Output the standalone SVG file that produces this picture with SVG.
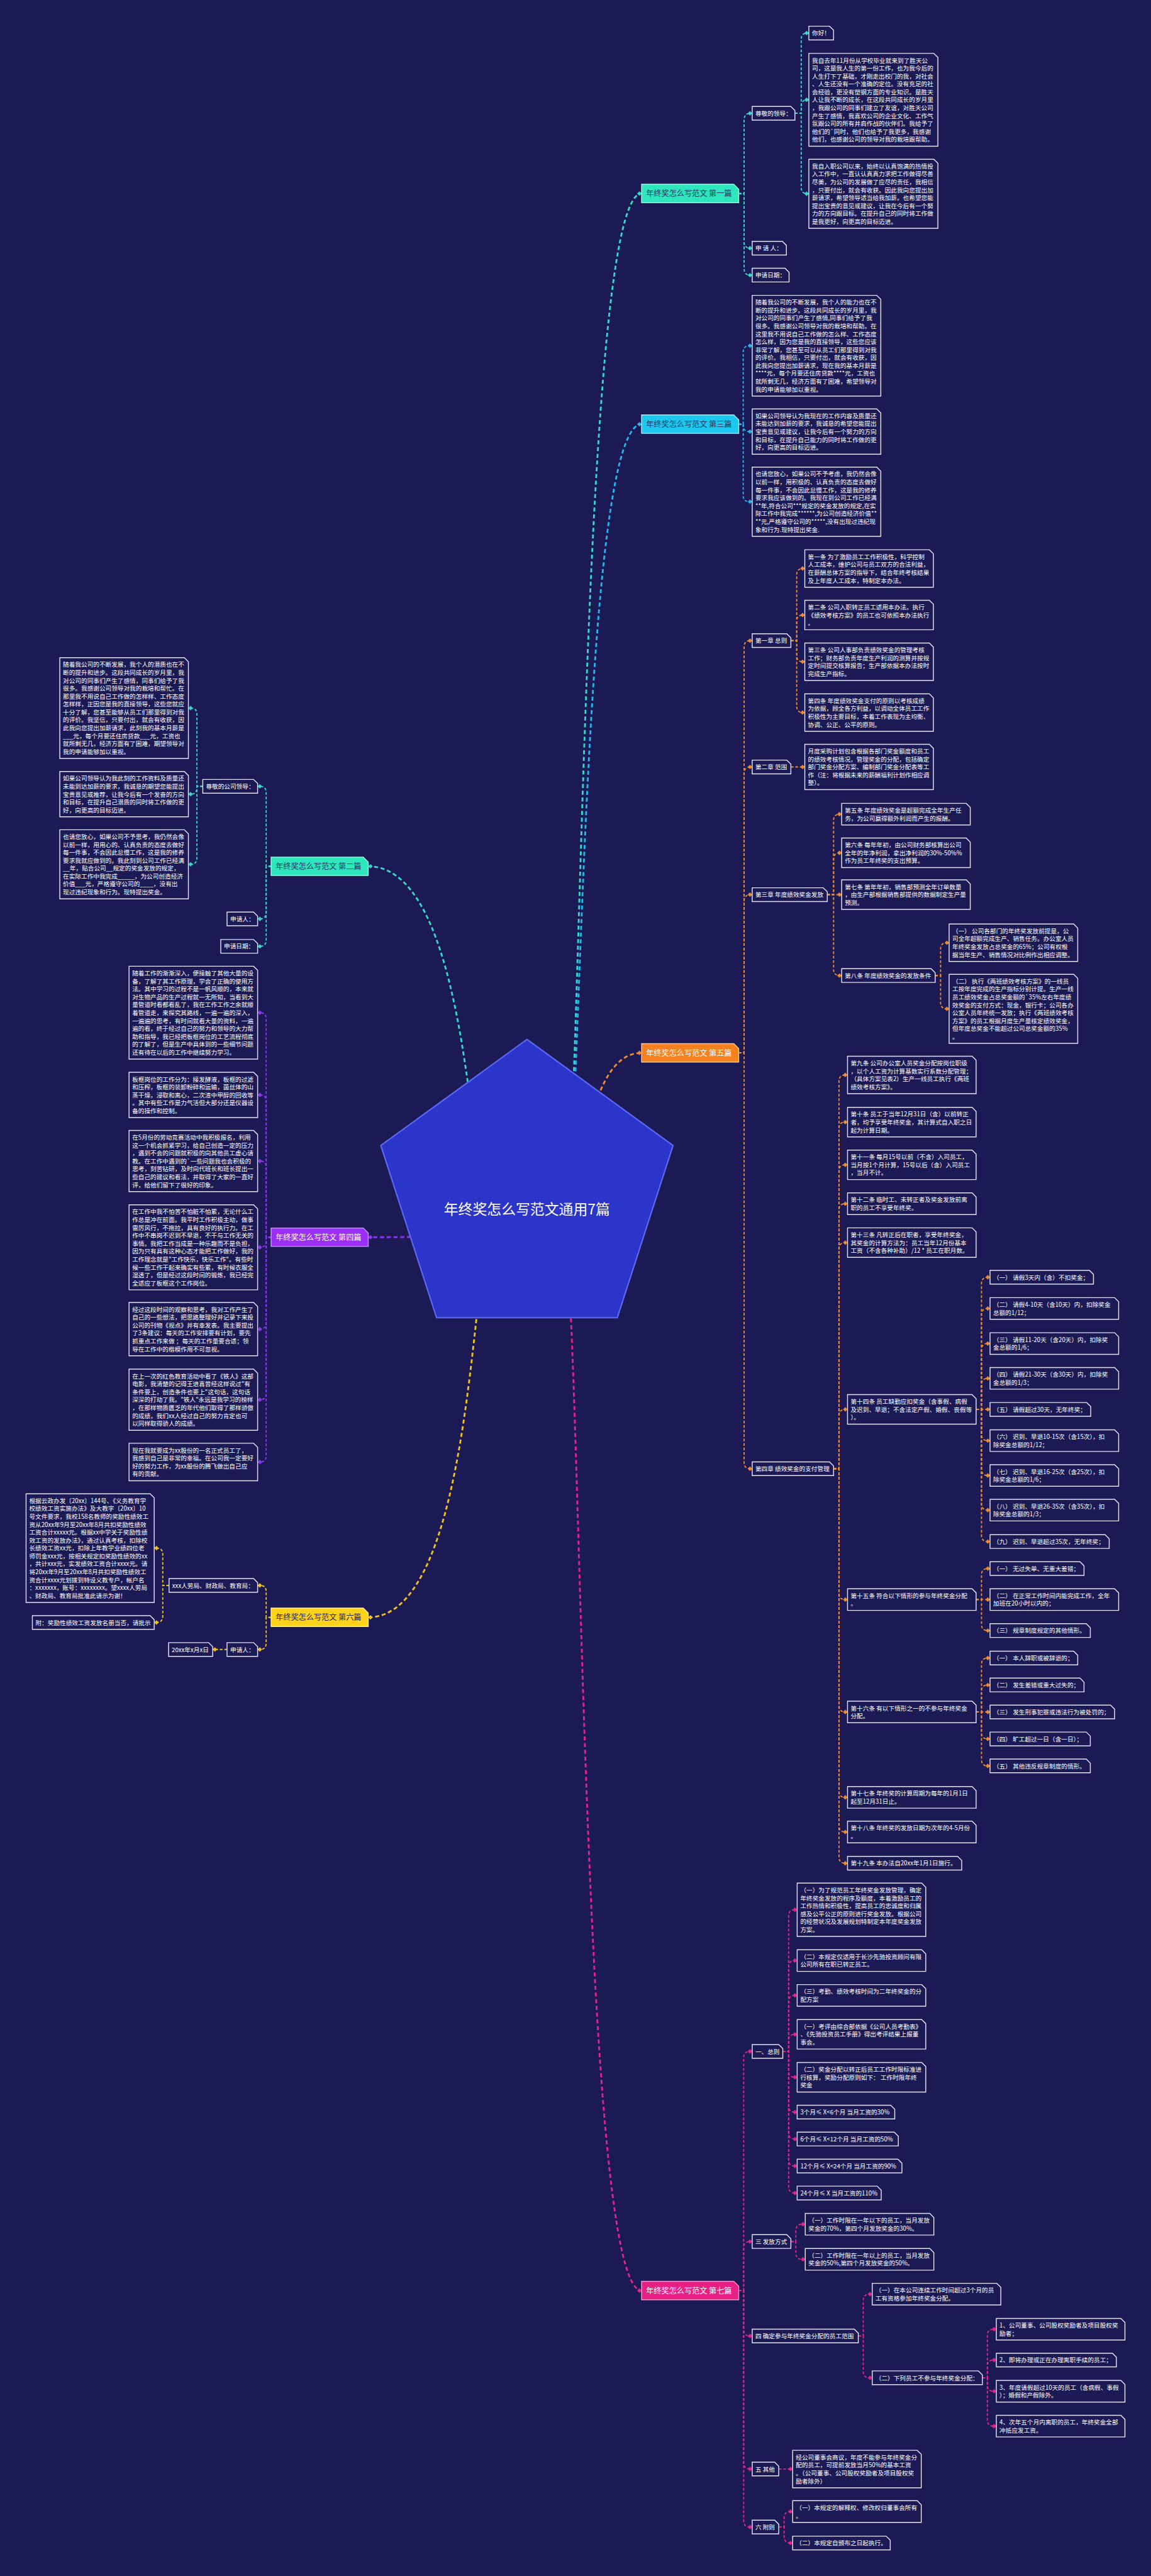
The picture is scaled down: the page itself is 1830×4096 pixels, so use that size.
<svg xmlns="http://www.w3.org/2000/svg" width="1830" height="4096" viewBox="0 0 1830 4096">
<defs>
<style>
.t{font-family:"Noto Sans CJK SC","Noto Sans CJK JP",sans-serif;font-size:13.5px;fill:#ffffff}
.bx{fill:#1b1a54;stroke:#e4e4f4;stroke-width:2}
.h{font-family:"Noto Sans CJK SC","Noto Sans CJK JP",sans-serif;font-size:17px}
.c{fill:none;stroke-width:2.6;stroke-dasharray:6 4}
.r{stroke-width:4;stroke-dasharray:9 6}
</style>
<marker id="m1" viewBox="-6 -6 12 12" refX="5" refY="0" markerWidth="12" markerHeight="12" markerUnits="userSpaceOnUse" orient="auto"><path d="M-5,0L0,-5L5,0L0,5Z" fill="#35d9c6"/></marker>
<marker id="m3" viewBox="-6 -6 12 12" refX="5" refY="0" markerWidth="12" markerHeight="12" markerUnits="userSpaceOnUse" orient="auto"><path d="M-5,0L0,-5L5,0L0,5Z" fill="#27b5ef"/></marker>
<marker id="m4" viewBox="-6 -6 12 12" refX="5" refY="0" markerWidth="12" markerHeight="12" markerUnits="userSpaceOnUse" orient="auto"><path d="M-5,0L0,-5L5,0L0,5Z" fill="#9035f0"/></marker>
<marker id="m5" viewBox="-6 -6 12 12" refX="5" refY="0" markerWidth="12" markerHeight="12" markerUnits="userSpaceOnUse" orient="auto"><path d="M-5,0L0,-5L5,0L0,5Z" fill="#f08a2c"/></marker>
<marker id="m6" viewBox="-6 -6 12 12" refX="5" refY="0" markerWidth="12" markerHeight="12" markerUnits="userSpaceOnUse" orient="auto"><path d="M-5,0L0,-5L5,0L0,5Z" fill="#f2c21a"/></marker>
<marker id="m7" viewBox="-6 -6 12 12" refX="5" refY="0" markerWidth="12" markerHeight="12" markerUnits="userSpaceOnUse" orient="auto"><path d="M-5,0L0,-5L5,0L0,5Z" fill="#e4248a"/></marker>
</defs>
<rect width="1830" height="4096" fill="#1b1a54"/>
<g transform="scale(0.714844)">

<g id="connectors">
<g class="c" stroke="#35d9c6" marker-end="url(#m1)">
<path class="r" d="M1250,2740C1295,2740 1285,430.5 1427,430.5"/>
<path d="M1643,430.5H1655V266Q1655,252 1669,252H1673"/>
<path d="M1643,430.5H1655V538Q1655,552 1669,552H1673"/>
<path d="M1643,430.5H1655V598Q1655,612 1669,612H1673"/>
<path d="M1768,252H1782V87.5Q1782,73.5 1796,73.5H1799"/>
<path d="M1768,252H1782V236Q1782,222 1796,222H1799"/>
<path d="M1768,252H1782V417Q1782,431 1796,431H1799"/>
<path class="r" d="M1094,2745C1049,2745 1059,1927 819,1927"/>
<path d="M603,1927H592V1763Q592,1749 578,1749H573"/>
<path d="M603,1927H592V2030Q592,2044 578,2044H573"/>
<path d="M603,1927H592V2091Q592,2105 578,2105H573"/>
<path d="M451,1749H438V1589Q438,1575 424,1575H419"/>
<path d="M451,1749H438V1752.5Q438,1766.5 424,1766.5H419"/>
<path d="M451,1749H438V1908.5Q438,1922.5 424,1922.5H419"/>
</g>
<g class="c" stroke="#27b5ef" marker-end="url(#m3)">
<path class="r" d="M1250,2740C1295,2740 1285,943.5 1427,943.5"/>
<path d="M1643,943.5H1653V783Q1653,769 1667,769H1673"/>
<path d="M1643,943.5H1653V946Q1653,960 1667,960H1673"/>
<path d="M1643,943.5H1653V1102Q1653,1116 1667,1116H1673"/>
</g>
<g class="c" stroke="#f08a2c" marker-end="url(#m5)">
<path class="r" d="M1250,2740C1295,2740 1285,2342 1427,2342"/>
<path d="M1643,2342H1655V1439Q1655,1425 1669,1425H1673"/>
<path d="M1643,2342H1655V1720Q1655,1706 1669,1706H1673"/>
<path d="M1643,2342H1655V2004Q1655,1990 1669,1990H1673"/>
<path d="M1643,2342H1655V3253Q1655,3267 1669,3267H1673"/>
<path d="M1759,1425H1772V1278.5Q1772,1264.5 1786,1264.5H1790"/>
<path d="M1759,1425H1772V1382Q1772,1368 1786,1368H1790"/>
<path d="M1759,1425H1772V1458Q1772,1472 1786,1472H1790"/>
<path d="M1759,1425H1772V1571Q1772,1585 1786,1585H1790"/>
<path d="M1759,1706H1790"/>
<path d="M1840,1990H1854V1825Q1854,1811 1868,1811H1872"/>
<path d="M1840,1990H1854V1911Q1854,1897 1868,1897H1872"/>
<path d="M1840,1990H1872"/>
<path d="M1840,1990H1854V2156Q1854,2170 1868,2170H1872"/>
<path d="M2080,2170H2092V2111Q2092,2097 2106,2097H2111"/>
<path d="M2080,2170H2092V2230Q2092,2244 2106,2244H2111"/>
<path d="M1854,3267H1866V2405Q1866,2391 1880,2391H1885"/>
<path d="M1854,3267H1866V2510Q1866,2496 1880,2496H1885"/>
<path d="M1854,3267H1866V2605Q1866,2591 1880,2591H1885"/>
<path d="M1854,3267H1866V2691.5Q1866,2677.5 1880,2677.5H1885"/>
<path d="M1854,3267H1866V2778Q1866,2764 1880,2764H1885"/>
<path d="M1854,3267H1866V3149Q1866,3135 1880,3135H1885"/>
<path d="M1854,3267H1866V3544Q1866,3558 1880,3558H1885"/>
<path d="M1854,3267H1866V3794Q1866,3808 1880,3808H1885"/>
<path d="M1854,3267H1866V3984Q1866,3998 1880,3998H1885"/>
<path d="M1854,3267H1866V4061Q1866,4075 1880,4075H1885"/>
<path d="M1854,3267H1866V4130.5Q1866,4144.5 1880,4144.5H1885"/>
<path d="M2171,3135H2183V2855Q2183,2841 2197,2841H2202"/>
<path d="M2171,3135H2183V2924.5Q2183,2910.5 2197,2910.5H2202"/>
<path d="M2171,3135H2183V3002.5Q2183,2988.5 2197,2988.5H2202"/>
<path d="M2171,3135H2183V3080Q2183,3066 2197,3066H2202"/>
<path d="M2171,3135H2202"/>
<path d="M2171,3135H2183V3190.5Q2183,3204.5 2197,3204.5H2202"/>
<path d="M2171,3135H2183V3268Q2183,3282 2197,3282H2202"/>
<path d="M2171,3135H2183V3345Q2183,3359 2197,3359H2202"/>
<path d="M2171,3135H2183V3415Q2183,3429 2197,3429H2202"/>
<path d="M2171,3558H2183V3503Q2183,3489 2197,3489H2202"/>
<path d="M2171,3558H2202"/>
<path d="M2171,3558H2183V3613Q2183,3627 2197,3627H2202"/>
<path d="M2171,3808H2183V3702Q2183,3688 2197,3688H2202"/>
<path d="M2171,3808H2183V3762Q2183,3748 2197,3748H2202"/>
<path d="M2171,3808H2202"/>
<path d="M2171,3808H2183V3854Q2183,3868 2197,3868H2202"/>
<path d="M2171,3808H2183V3914Q2183,3928 2197,3928H2202"/>
</g>
<g class="c" stroke="#e4248a" marker-end="url(#m7)">
<path class="r" d="M1250,2740C1295,2740 1285,5095 1427,5095"/>
<path d="M1643,5095H1654V4577Q1654,4563 1668,4563H1673"/>
<path d="M1643,5095H1654V5000Q1654,4986 1668,4986H1673"/>
<path d="M1643,5095H1654V5182Q1654,5196 1668,5196H1673"/>
<path d="M1643,5095H1654V5478Q1654,5492 1668,5492H1673"/>
<path d="M1643,5095H1654V5607Q1654,5621 1668,5621H1673"/>
<path d="M1741,4563H1754V4262Q1754,4248 1768,4248H1773"/>
<path d="M1741,4563H1754V4375Q1754,4361 1768,4361H1773"/>
<path d="M1741,4563H1754V4452.5Q1754,4438.5 1768,4438.5H1773"/>
<path d="M1741,4563H1754V4539Q1754,4525 1768,4525H1773"/>
<path d="M1741,4563H1754V4606.5Q1754,4620.5 1768,4620.5H1773"/>
<path d="M1741,4563H1754V4684Q1754,4698 1768,4698H1773"/>
<path d="M1741,4563H1754V4744Q1754,4758 1768,4758H1773"/>
<path d="M1741,4563H1754V4804Q1754,4818 1768,4818H1773"/>
<path d="M1741,4563H1754V4864Q1754,4878 1768,4878H1773"/>
<path d="M1759,4986H1770V4961.5Q1770,4947.5 1784,4947.5H1791"/>
<path d="M1759,4986H1770V5011.5Q1770,5025.5 1784,5025.5H1791"/>
<path d="M1909,5196H1920V5117Q1920,5103 1934,5103H1940"/>
<path d="M1909,5196H1920V5275Q1920,5289 1934,5289H1940"/>
<path d="M2185,5289H2196V5195Q2196,5181 2210,5181H2216"/>
<path d="M2185,5289H2196V5263.5Q2196,5249.5 2210,5249.5H2216"/>
<path d="M2185,5289H2196V5305Q2196,5319 2210,5319H2216"/>
<path d="M2185,5289H2196V5382.5Q2196,5396.5 2210,5396.5H2216"/>
<path d="M1732,5492H1763"/>
<path d="M1732,5621H1744V5600.5Q1744,5586.5 1758,5586.5H1763"/>
<path d="M1732,5621H1744V5642.5Q1744,5656.5 1758,5656.5H1763"/>
</g>
<g class="c" stroke="#9035f0" marker-end="url(#m4)">
<path class="r" d="M1094,2745C1049,2745 1059,2752 819,2752"/>
<path d="M603,2752H592V2266.5Q592,2252.5 578,2252.5H573"/>
<path d="M603,2752H592V2449.5Q592,2435.5 578,2435.5H573"/>
<path d="M603,2752H592V2596.5Q592,2582.5 578,2582.5H573"/>
<path d="M603,2752H592V2760.5Q592,2774.5 578,2774.5H573"/>
<path d="M603,2752H592V2942.5Q592,2956.5 578,2956.5H573"/>
<path d="M603,2752H592V3099.5Q592,3113.5 578,3113.5H573"/>
<path d="M603,2752H592V3238Q592,3252 578,3252H573"/>
</g>
<g class="c" stroke="#f2c21a" marker-end="url(#m6)">
<path class="r" d="M1094,2745C1049,2745 1059,3597.5 819,3597.5"/>
<path d="M603,3597.5H592V3540.5Q592,3526.5 578,3526.5H573"/>
<path d="M603,3597.5H592V3655Q592,3669 578,3669H573"/>
<path d="M376,3526.5H362V3457.5Q362,3443.5 348,3443.5H343"/>
<path d="M376,3526.5H362V3595Q362,3609 348,3609H343"/>
<path d="M505,3669H473"/>
</g>
</g>

<g id="root">
<polygon points="1172,2312 1497,2548 1373,2931 971,2931 847,2548" fill="#2b35c9" stroke="#5d69f5" stroke-width="3"/>
<text x="1172" y="2702" text-anchor="middle" font-family="Noto Sans CJK SC, sans-serif" font-size="32" fill="#ffffff">年终奖怎么写范文通用7篇</text>
</g>

<!-- Branch 1 -->
<g id="b1" transform="translate(1427,410)"><path d="M0,0H205L216,11V41H0Z" fill="#2ee6bd" stroke="#a6f7e3" stroke-width="2"/><text class="h" x="10" y="27" fill="#1e3a66">年终奖怎么写范文 第一篇</text></g>
<g id="b1-1" transform="translate(1673,236.75)"><path class="bx" d="M0,0H86L95,9V30.5H0Z"/><text class="t" x="7" y="20.5">尊敬的领导：</text></g>
<g id="b1-1-1" transform="translate(1799,58.25)"><path class="bx" d="M0,0H46L55,9V30.5H0Z"/><text class="t" x="7" y="20.5">你好！</text></g>
<g id="b1-1-2" transform="translate(1799,118.75)"><path class="bx" d="M0,0H278L287,9V206.5H0Z"/><text class="t" y="20.5"><tspan x="7">我自去年11月份从学校毕业就来到了胜天公</tspan><tspan x="7" dy="17.6">司，这是我人生的第一份工作，也为我今后的</tspan><tspan x="7" dy="17.6">人生打下了基础，才刚走出校门的我，对社会</tspan><tspan x="7" dy="17.6">、人生还没有一个准确的定位。没有充足的社</tspan><tspan x="7" dy="17.6">会经验，更没有塑钢方面的专业知识。是胜天</tspan><tspan x="7" dy="17.6">人让我不断的成长，在这段共同成长的岁月里</tspan><tspan x="7" dy="17.6">，我跟公司的同事们建立了友谊，对胜天公司</tspan><tspan x="7" dy="17.6">产生了感情，我喜欢公司的企业文化、工作气</tspan><tspan x="7" dy="17.6">氛跟公司的所有并肩作战的伙伴们。我给予了</tspan><tspan x="7" dy="17.6">他们的`同时，他们也给予了我更多，我感谢</tspan><tspan x="7" dy="17.6">他们，也感谢公司的领导对我的栽培跟帮助。</tspan></text></g>
<g id="b1-1-3" transform="translate(1799,354.15)"><path class="bx" d="M0,0H278L287,9V153.7H0Z"/><text class="t" y="20.5"><tspan x="7">我自入职公司以来，始终以认真饱满的热情投</tspan><tspan x="7" dy="17.6">入工作中，一直认认真真力求把工作做得尽善</tspan><tspan x="7" dy="17.6">尽美，为公司的发展做了应尽的责任，我相信</tspan><tspan x="7" dy="17.6">，只要付出，就会有收获。因此我向您提出加</tspan><tspan x="7" dy="17.6">薪请求，希望领导适当给我加薪。也希望您能</tspan><tspan x="7" dy="17.6">提出宝贵的意见或建议，让我在今后有一个努</tspan><tspan x="7" dy="17.6">力的方向跟目标。在提升自己的同时将工作做</tspan><tspan x="7" dy="17.6">是我更好，向更高的目标迈进。</tspan></text></g>
<g id="b1-2" transform="translate(1673,536.75)"><path class="bx" d="M0,0H67L76,9V30.5H0Z"/><text class="t" x="7" y="20.5">申 请 人：</text></g>
<g id="b1-3" transform="translate(1673,596.75)"><path class="bx" d="M0,0H73L82,9V30.5H0Z"/><text class="t" x="7" y="20.5">申请日期：</text></g>

<!-- Branch 3 -->
<g id="b3" transform="translate(1427,923)"><path d="M0,0H205L216,11V41H0Z" fill="#1cc8f0" stroke="#a5ecff" stroke-width="2"/><text class="h" x="10" y="27" fill="#1e3a66">年终奖怎么写范文 第三篇</text></g>
<g id="b3-1" transform="translate(1673,656.95)"><path class="bx" d="M0,0H277L286,9V224.1H0Z"/><text class="t" y="20.5"><tspan x="7">随着我公司的不断发展，我个人的能力也在不</tspan><tspan x="7" dy="17.6">断的提升和进步。这段共同成长的岁月里，我</tspan><tspan x="7" dy="17.6">对公司的同事们产生了感情,同事们给予了我</tspan><tspan x="7" dy="17.6">很多。我感谢公司领导对我的栽培和帮助。在</tspan><tspan x="7" dy="17.6">这里我不用说自己工作做的怎么样、工作态度</tspan><tspan x="7" dy="17.6">怎么样，因为您是我的直接领导，这些您应该</tspan><tspan x="7" dy="17.6">非常了解，您甚至可以从员工们那里得到对我</tspan><tspan x="7" dy="17.6">的评价。我相信，只要付出，就会有收获，因</tspan><tspan x="7" dy="17.6">此我向您提出加薪请求，现在我的基本月薪是</tspan><tspan x="7" dy="17.6">****元，每个月要还住房贷款****元，工资也</tspan><tspan x="7" dy="17.6">就所剩无几，经济方面有了困难，希望领导对</tspan><tspan x="7" dy="17.6">我的申请能够加以重视。</tspan></text></g>
<g id="b3-2" transform="translate(1673,909.55)"><path class="bx" d="M0,0H277L286,9V100.9H0Z"/><text class="t" y="20.5"><tspan x="7">如果公司领导认为我现在的工作内容及质量还</tspan><tspan x="7" dy="17.6">未能达到加薪的要求，我诚恳的希望您能提出</tspan><tspan x="7" dy="17.6">宝贵意见或建议，让我今后有一个努力的方向</tspan><tspan x="7" dy="17.6">和目标，在提升自己能力的同时将工作做的更</tspan><tspan x="7" dy="17.6">好，向更高的目标迈进。</tspan></text></g>
<g id="b3-3" transform="translate(1673,1039.15)"><path class="bx" d="M0,0H277L286,9V153.7H0Z"/><text class="t" y="20.5"><tspan x="7">也请您放心，如果公司不予考虑，我仍然会像</tspan><tspan x="7" dy="17.6">以前一样，用积极的、认真负责的态度去做好</tspan><tspan x="7" dy="17.6">每一件事，不会因此怠慢工作，这是我的修养</tspan><tspan x="7" dy="17.6">要求我应该做到的。我现在到公司工作已经满</tspan><tspan x="7" dy="17.6">**年,符合公司***规定的奖金发放的规定,在实</tspan><tspan x="7" dy="17.6">际工作中我完成******,为公司创造经济价值**</tspan><tspan x="7" dy="17.6">**元,严格遵守公司的*****,没有出现过违纪现</tspan><tspan x="7" dy="17.6">象和行为.现特提出奖金.</tspan></text></g>

<!-- Branch 5 -->
<g id="b5" transform="translate(1427,2321.5)"><path d="M0,0H205L216,11V41H0Z" fill="#f5821f" stroke="#ffc58f" stroke-width="2"/><text class="h" x="10" y="27" fill="#ffffff">年终奖怎么写范文 第五篇</text></g>
<g id="b5-1" transform="translate(1673,1409.75)"><path class="bx" d="M0,0H77L86,9V30.5H0Z"/><text class="t" x="7" y="20.5">第一章 总则</text></g>
<g id="b5-1-1" transform="translate(1790,1222.85)"><path class="bx" d="M0,0H277L286,9V83.3H0Z"/><text class="t" y="20.5"><tspan x="7">第一条 为了激励员工工作积极性，科学控制</tspan><tspan x="7" dy="17.6">人工成本，维护公司与员工双方的合法利益，</tspan><tspan x="7" dy="17.6">在薪酬总体方案的指导下，结合年终考核结果</tspan><tspan x="7" dy="17.6">及上年度人工成本，特制定本办法。</tspan></text></g>
<g id="b5-1-2" transform="translate(1790,1335.15)"><path class="bx" d="M0,0H277L286,9V65.7H0Z"/><text class="t" y="20.5"><tspan x="7">第二条 公司入职转正员工适用本办法。执行</tspan><tspan x="7" dy="17.6">《绩效考核方案》的员工也可依照本办法执行</tspan><tspan x="7" dy="17.6">。</tspan></text></g>
<g id="b5-1-3" transform="translate(1790,1430.35)"><path class="bx" d="M0,0H277L286,9V83.3H0Z"/><text class="t" y="20.5"><tspan x="7">第三条 公司人事部负责绩效奖金的管理考核</tspan><tspan x="7" dy="17.6">工作；财务部负责年度生产利润的测算并按规</tspan><tspan x="7" dy="17.6">定时间提交核算报告；生产部依据本办法按时</tspan><tspan x="7" dy="17.6">完成生产指标。</tspan></text></g>
<g id="b5-1-4" transform="translate(1790,1543.35)"><path class="bx" d="M0,0H277L286,9V83.3H0Z"/><text class="t" y="20.5"><tspan x="7">第四条 年度绩效奖金支付的原则以考核成绩</tspan><tspan x="7" dy="17.6">为依据，顾全各方利益，以调动全体员工工作</tspan><tspan x="7" dy="17.6">积极性为主要目标，本着工作表现为主均衡、</tspan><tspan x="7" dy="17.6">协调、公正、公平的原则。</tspan></text></g>
<g id="b5-2" transform="translate(1673,1690.75)"><path class="bx" d="M0,0H77L86,9V30.5H0Z"/><text class="t" x="7" y="20.5">第二章 范围</text></g>
<g id="b5-2-1" transform="translate(1790,1655.55)"><path class="bx" d="M0,0H277L286,9V100.9H0Z"/><text class="t" y="20.5"><tspan x="7">月度采购计划包含根据各部门奖金额度和员工</tspan><tspan x="7" dy="17.6">的绩效考核情况，管理奖金的分配，包括确定</tspan><tspan x="7" dy="17.6">部门奖金分配方案、编制部门奖金分配表等工</tspan><tspan x="7" dy="17.6">作（注：将根据未来的薪酬福利计划作相应调</tspan><tspan x="7" dy="17.6">整）。</tspan></text></g>
<g id="b5-3" transform="translate(1673,1974.75)"><path class="bx" d="M0,0H158L167,9V30.5H0Z"/><text class="t" x="7" y="20.5">第三章 年度绩效奖金发放</text></g>
<g id="b5-3-1" transform="translate(1872,1786.95)"><path class="bx" d="M0,0H277L286,9V48.1H0Z"/><text class="t" y="20.5"><tspan x="7">第五条 年度绩效奖金是超额完成全年生产任</tspan><tspan x="7" dy="17.6">务，为公司赢得额外利润而产生的报酬。</tspan></text></g>
<g id="b5-3-2" transform="translate(1872,1864.15)"><path class="bx" d="M0,0H277L286,9V65.7H0Z"/><text class="t" y="20.5"><tspan x="7">第六条 每年年初，由公司财务部核算出公司</tspan><tspan x="7" dy="17.6">全年的年净利润，拿出净利润的30%-50%%</tspan><tspan x="7" dy="17.6">作为员工年终奖的支出预算。</tspan></text></g>
<g id="b5-3-3" transform="translate(1872,1957.15)"><path class="bx" d="M0,0H277L286,9V65.7H0Z"/><text class="t" y="20.5"><tspan x="7">第七条 第年年初，销售部预测全年订单数量</tspan><tspan x="7" dy="17.6">，由生产部根据销售部提供的数据制定生产量</tspan><tspan x="7" dy="17.6">预测。</tspan></text></g>
<g id="b5-3-4" transform="translate(1872,2154.75)"><path class="bx" d="M0,0H199L208,9V30.5H0Z"/><text class="t" x="7" y="20.5">第八条 年度绩效奖金的发放条件</text></g>
<g id="b5-3-4-1" transform="translate(2111,2055.35)"><path class="bx" d="M0,0H277L286,9V83.3H0Z"/><text class="t" y="20.5"><tspan x="7">（一） 公司各部门的年终奖发放前提是，公</tspan><tspan x="7" dy="17.6">司全年超额完成生产、销售任务。办公室人员</tspan><tspan x="7" dy="17.6">年终奖金发放占总奖金的65%；公司有权根</tspan><tspan x="7" dy="17.6">据当年生产、销售情况对比例作出相应调整。</tspan></text></g>
<g id="b5-3-4-2" transform="translate(2111,2167.15)"><path class="bx" d="M0,0H277L286,9V153.7H0Z"/><text class="t" y="20.5"><tspan x="7">（二） 执行《两班绩效考核方案》的一线员</tspan><tspan x="7" dy="17.6">工按年度完成的生产指标分别计提。生产一线</tspan><tspan x="7" dy="17.6">员工绩效奖金占总奖金额的`35%左右年度绩</tspan><tspan x="7" dy="17.6">效奖金的支付方式：现金，银行卡；公司各办</tspan><tspan x="7" dy="17.6">公室人员年终统一发放；执行《两班绩效考核</tspan><tspan x="7" dy="17.6">方案》的员工根据月度生产量核定绩效奖金，</tspan><tspan x="7" dy="17.6">但年度总奖金不能超过公司总奖金额的35%</tspan><tspan x="7" dy="17.6">。</tspan></text></g>
<g id="b5-4" transform="translate(1673,3251.75)"><path class="bx" d="M0,0H172L181,9V30.5H0Z"/><text class="t" x="7" y="20.5">第四章 绩效奖金的支付管理</text></g>
<g id="b5-4-1" transform="translate(1885,2349.35)"><path class="bx" d="M0,0H277L286,9V83.3H0Z"/><text class="t" y="20.5"><tspan x="7">第九条 公司办公室人员奖金分配按岗位职级</tspan><tspan x="7" dy="17.6">，以个人工资为计算基数实行系数分配管理；</tspan><tspan x="7" dy="17.6">（具体方案见表2）生产一线员工执行《两班</tspan><tspan x="7" dy="17.6">绩效考核方案》。</tspan></text></g>
<g id="b5-4-2" transform="translate(1885,2463.15)"><path class="bx" d="M0,0H277L286,9V65.7H0Z"/><text class="t" y="20.5"><tspan x="7">第十条 员工于当年12月31日（含）以前转正</tspan><tspan x="7" dy="17.6">者，均予享受年终奖金，其计算式自入职之日</tspan><tspan x="7" dy="17.6">起为计算日期。</tspan></text></g>
<g id="b5-4-3" transform="translate(1885,2558.15)"><path class="bx" d="M0,0H277L286,9V65.7H0Z"/><text class="t" y="20.5"><tspan x="7">第十一条 每月15号以前（不含）入司员工，</tspan><tspan x="7" dy="17.6">当月按1个月计算，15号以后（含）入司员工</tspan><tspan x="7" dy="17.6">，当月不计。</tspan></text></g>
<g id="b5-4-4" transform="translate(1885,2653.45)"><path class="bx" d="M0,0H277L286,9V48.1H0Z"/><text class="t" y="20.5"><tspan x="7">第十二条 临时工、未转正者及奖金发放前离</tspan><tspan x="7" dy="17.6">职的员工不享受年终奖。</tspan></text></g>
<g id="b5-4-5" transform="translate(1885,2731.15)"><path class="bx" d="M0,0H277L286,9V65.7H0Z"/><text class="t" y="20.5"><tspan x="7">第十三条 凡转正后在职者，享受年终奖金，</tspan><tspan x="7" dy="17.6">其奖金的计算方法为：员工当年12月份基本</tspan><tspan x="7" dy="17.6">工资（不含各种补助）/12 * 员工在职月数。</tspan></text></g>
<g id="b5-4-6" transform="translate(1885,3102.15)"><path class="bx" d="M0,0H277L286,9V65.7H0Z"/><text class="t" y="20.5"><tspan x="7">第十四条 员工缺勤应扣奖金（含事假、病假</tspan><tspan x="7" dy="17.6">及迟到、早退；不含法定产假、婚假、丧假等</tspan><tspan x="7" dy="17.6">）。</tspan></text></g>
<g id="b5-4-6-1" transform="translate(2202,2825.75)"><path class="bx" d="M0,0H221L230,9V30.5H0Z"/><text class="t" x="7" y="20.5">（一） 请假3天内（含）不扣奖金；</text></g>
<g id="b5-4-6-2" transform="translate(2202,2886.45)"><path class="bx" d="M0,0H277L286,9V48.1H0Z"/><text class="t" y="20.5"><tspan x="7">（二） 请假4-10天（含10天）内，扣除奖金</tspan><tspan x="7" dy="17.6">总额的1/12；</tspan></text></g>
<g id="b5-4-6-3" transform="translate(2202,2964.45)"><path class="bx" d="M0,0H277L286,9V48.1H0Z"/><text class="t" y="20.5"><tspan x="7">（三） 请假11-20天（含20天）内，扣除奖</tspan><tspan x="7" dy="17.6">金总额的1/6；</tspan></text></g>
<g id="b5-4-6-4" transform="translate(2202,3041.95)"><path class="bx" d="M0,0H277L286,9V48.1H0Z"/><text class="t" y="20.5"><tspan x="7">（四） 请假21-30天（含30天）内，扣除奖</tspan><tspan x="7" dy="17.6">金总额的1/3；</tspan></text></g>
<g id="b5-4-6-5" transform="translate(2202,3119.75)"><path class="bx" d="M0,0H215L224,9V30.5H0Z"/><text class="t" x="7" y="20.5">（五） 请假超过30天，无年终奖；</text></g>
<g id="b5-4-6-6" transform="translate(2202,3180.45)"><path class="bx" d="M0,0H277L286,9V48.1H0Z"/><text class="t" y="20.5"><tspan x="7">（六） 迟到、早退10-15次（含15次），扣</tspan><tspan x="7" dy="17.6">除奖金总额的1/12；</tspan></text></g>
<g id="b5-4-6-7" transform="translate(2202,3257.95)"><path class="bx" d="M0,0H277L286,9V48.1H0Z"/><text class="t" y="20.5"><tspan x="7">（七） 迟到、早退16-25次（含25次），扣</tspan><tspan x="7" dy="17.6">除奖金总额的1/6；</tspan></text></g>
<g id="b5-4-6-8" transform="translate(2202,3334.95)"><path class="bx" d="M0,0H277L286,9V48.1H0Z"/><text class="t" y="20.5"><tspan x="7">（八） 迟到、早退26-35次（含35次），扣</tspan><tspan x="7" dy="17.6">除奖金总额的1/3；</tspan></text></g>
<g id="b5-4-6-9" transform="translate(2202,3413.75)"><path class="bx" d="M0,0H256L265,9V30.5H0Z"/><text class="t" x="7" y="20.5">（九） 迟到、早退超过35次，无年终奖；</text></g>
<g id="b5-4-7" transform="translate(1885,3533.95)"><path class="bx" d="M0,0H277L286,9V48.1H0Z"/><text class="t" y="20.5"><tspan x="7">第十五条 符合以下情形的参与年终奖金分配</tspan><tspan x="7" dy="17.6">。</tspan></text></g>
<g id="b5-4-7-1" transform="translate(2202,3473.75)"><path class="bx" d="M0,0H200L209,9V30.5H0Z"/><text class="t" x="7" y="20.5">（一） 无过失单、无重大差错；</text></g>
<g id="b5-4-7-2" transform="translate(2202,3533.95)"><path class="bx" d="M0,0H277L286,9V48.1H0Z"/><text class="t" y="20.5"><tspan x="7">（二） 在正常工作时间内能完成工作，全年</tspan><tspan x="7" dy="17.6">加班在20小时以内的；</tspan></text></g>
<g id="b5-4-7-3" transform="translate(2202,3611.75)"><path class="bx" d="M0,0H214L223,9V30.5H0Z"/><text class="t" x="7" y="20.5">（三） 规章制度规定的其他情形。</text></g>
<g id="b5-4-8" transform="translate(1885,3783.95)"><path class="bx" d="M0,0H277L286,9V48.1H0Z"/><text class="t" y="20.5"><tspan x="7">第十六条 有以下情形之一的不参与年终奖金</tspan><tspan x="7" dy="17.6">分配。</tspan></text></g>
<g id="b5-4-8-1" transform="translate(2202,3672.75)"><path class="bx" d="M0,0H186L195,9V30.5H0Z"/><text class="t" x="7" y="20.5">（一） 本人辞职或被辞退的；</text></g>
<g id="b5-4-8-2" transform="translate(2202,3732.75)"><path class="bx" d="M0,0H200L209,9V30.5H0Z"/><text class="t" x="7" y="20.5">（二） 发生差错或重大过失的；</text></g>
<g id="b5-4-8-3" transform="translate(2202,3792.75)"><path class="bx" d="M0,0H268L277,9V30.5H0Z"/><text class="t" x="7" y="20.5">（三） 发生刑事犯罪或违法行为被处罚的；</text></g>
<g id="b5-4-8-4" transform="translate(2202,3852.75)"><path class="bx" d="M0,0H214L223,9V30.5H0Z"/><text class="t" x="7" y="20.5">（四） 旷工超过一日（含一日）；</text></g>
<g id="b5-4-8-5" transform="translate(2202,3912.75)"><path class="bx" d="M0,0H214L223,9V30.5H0Z"/><text class="t" x="7" y="20.5">（五） 其他违反规章制度的情形。</text></g>
<g id="b5-4-9" transform="translate(1885,3973.95)"><path class="bx" d="M0,0H277L286,9V48.1H0Z"/><text class="t" y="20.5"><tspan x="7">第十七条 年终奖的计算周期为每年的1月1日</tspan><tspan x="7" dy="17.6">起至12月31日止。</tspan></text></g>
<g id="b5-4-10" transform="translate(1885,4050.95)"><path class="bx" d="M0,0H277L286,9V48.1H0Z"/><text class="t" y="20.5"><tspan x="7">第十八条 年终奖的发放日期为次年的4-5月份</tspan><tspan x="7" dy="17.6">。</tspan></text></g>
<g id="b5-4-11" transform="translate(1885,4129.25)"><path class="bx" d="M0,0H245L254,9V30.5H0Z"/><text class="t" x="7" y="20.5">第十九条 本办法自20xx年1月1日施行。</text></g>

<!-- Branch 7 -->
<g id="b7" transform="translate(1427,5074.5)"><path d="M0,0H205L216,11V41H0Z" fill="#e81f84" stroke="#ff96c8" stroke-width="2"/><text class="h" x="10" y="27" fill="#ffffff">年终奖怎么写范文 第七篇</text></g>
<g id="b7-1" transform="translate(1673,4547.75)"><path class="bx" d="M0,0H59L68,9V30.5H0Z"/><text class="t" x="7" y="20.5">一、总则</text></g>
<g id="b7-1-1" transform="translate(1773,4188.75)"><path class="bx" d="M0,0H277L286,9V118.5H0Z"/><text class="t" y="20.5"><tspan x="7">（一）为了规范员工年终奖金发放管理，确定</tspan><tspan x="7" dy="17.6">年终奖金发放的程序及额度，本着激励员工的</tspan><tspan x="7" dy="17.6">工作热情和积极性，提高员工的忠诚度和归属</tspan><tspan x="7" dy="17.6">感及公平公正的原则进行奖金发放。根据公司</tspan><tspan x="7" dy="17.6">的经营状况及发展规划特制定本年度奖金发放</tspan><tspan x="7" dy="17.6">方案。</tspan></text></g>
<g id="b7-1-2" transform="translate(1773,4336.95)"><path class="bx" d="M0,0H277L286,9V48.1H0Z"/><text class="t" y="20.5"><tspan x="7">（二）本规定仅适用于长沙先驰投资顾问有限</tspan><tspan x="7" dy="17.6">公司所有在职已转正员工。</tspan></text></g>
<g id="b7-1-3" transform="translate(1773,4414.45)"><path class="bx" d="M0,0H277L286,9V48.1H0Z"/><text class="t" y="20.5"><tspan x="7">（三）考勤、绩效考核时间为二年终奖金的分</tspan><tspan x="7" dy="17.6">配方案</tspan></text></g>
<g id="b7-1-4" transform="translate(1773,4492.15)"><path class="bx" d="M0,0H277L286,9V65.7H0Z"/><text class="t" y="20.5"><tspan x="7">（一）考评由综合部依据《公司人员考勤表》</tspan><tspan x="7" dy="17.6">、《先驰投资员工手册》得出考评结果上报董</tspan><tspan x="7" dy="17.6">事会。</tspan></text></g>
<g id="b7-1-5" transform="translate(1773,4587.65)"><path class="bx" d="M0,0H277L286,9V65.7H0Z"/><text class="t" y="20.5"><tspan x="7">（二）奖金分配以转正后员工工作时限标准进</tspan><tspan x="7" dy="17.6">行核算，奖励分配原则如下： 工作时限年终</tspan><tspan x="7" dy="17.6">奖金</tspan></text></g>
<g id="b7-1-6" transform="translate(1773,4682.75)"><path class="bx" d="M0,0H208L217,9V30.5H0Z"/><text class="t" x="7" y="20.5">3个月≤ X&lt;6个月 当月工资的30%</text></g>
<g id="b7-1-7" transform="translate(1773,4742.75)"><path class="bx" d="M0,0H216L225,9V30.5H0Z"/><text class="t" x="7" y="20.5">6个月≤ X&lt;12个月 当月工资的50%</text></g>
<g id="b7-1-8" transform="translate(1773,4802.75)"><path class="bx" d="M0,0H224L233,9V30.5H0Z"/><text class="t" x="7" y="20.5">12个月≤ X&lt;24个月 当月工资的90%</text></g>
<g id="b7-1-9" transform="translate(1773,4862.75)"><path class="bx" d="M0,0H178L187,9V30.5H0Z"/><text class="t" x="7" y="20.5">24个月≤ X 当月工资的110%</text></g>
<g id="b7-2" transform="translate(1673,4970.75)"><path class="bx" d="M0,0H77L86,9V30.5H0Z"/><text class="t" x="7" y="20.5">三 发放方式</text></g>
<g id="b7-2-1" transform="translate(1791,4923.45)"><path class="bx" d="M0,0H277L286,9V48.1H0Z"/><text class="t" y="20.5"><tspan x="7">（一）工作时限在一年以下的员工，当月发放</tspan><tspan x="7" dy="17.6">奖金的70%，第四个月发放奖金的30%。</tspan></text></g>
<g id="b7-2-2" transform="translate(1791,5001.45)"><path class="bx" d="M0,0H277L286,9V48.1H0Z"/><text class="t" y="20.5"><tspan x="7">（二）工作时限在一年以上的员工，当月发放</tspan><tspan x="7" dy="17.6">奖金的50%,第四个月发放奖金的50%。</tspan></text></g>
<g id="b7-3" transform="translate(1673,5180.75)"><path class="bx" d="M0,0H227L236,9V30.5H0Z"/><text class="t" x="7" y="20.5">四 确定参与年终奖金分配的员工范围</text></g>
<g id="b7-3-1" transform="translate(1940,5078.95)"><path class="bx" d="M0,0H277L286,9V48.1H0Z"/><text class="t" y="20.5"><tspan x="7">（一）在本公司连续工作时间超过3个月的员</tspan><tspan x="7" dy="17.6">工有资格参加年终奖金分配。</tspan></text></g>
<g id="b7-3-2" transform="translate(1940,5273.75)"><path class="bx" d="M0,0H236L245,9V30.5H0Z"/><text class="t" x="7" y="20.5">（二）下列员工不参与年终奖金分配：</text></g>
<g id="b7-3-2-1" transform="translate(2216,5156.95)"><path class="bx" d="M0,0H277L286,9V48.1H0Z"/><text class="t" y="20.5"><tspan x="7">1、公司董事、公司股权奖励者及项目股权奖</tspan><tspan x="7" dy="17.6">励者；</tspan></text></g>
<g id="b7-3-2-2" transform="translate(2216,5234.25)"><path class="bx" d="M0,0H258L267,9V30.5H0Z"/><text class="t" x="7" y="20.5">2、即将办理或正在办理离职手续的员工；</text></g>
<g id="b7-3-2-3" transform="translate(2216,5294.95)"><path class="bx" d="M0,0H277L286,9V48.1H0Z"/><text class="t" y="20.5"><tspan x="7">3、年度请假超过10天的员工（含病假、事假</tspan><tspan x="7" dy="17.6">）；婚假和产假除外。</tspan></text></g>
<g id="b7-3-2-4" transform="translate(2216,5372.45)"><path class="bx" d="M0,0H277L286,9V48.1H0Z"/><text class="t" y="20.5"><tspan x="7">4、次年五个月内离职的员工，年终奖金全部</tspan><tspan x="7" dy="17.6">冲抵应发工资。</tspan></text></g>
<g id="b7-4" transform="translate(1673,5476.75)"><path class="bx" d="M0,0H50L59,9V30.5H0Z"/><text class="t" x="7" y="20.5">五 其他</text></g>
<g id="b7-4-1" transform="translate(1763,5450.35)"><path class="bx" d="M0,0H277L286,9V83.3H0Z"/><text class="t" y="20.5"><tspan x="7">经公司董事会商议，年度不能参与年终奖金分</tspan><tspan x="7" dy="17.6">配的员工，可提前发放当月50%的基本工资</tspan><tspan x="7" dy="17.6">。（公司董事、公司股权奖励者及项目股权奖</tspan><tspan x="7" dy="17.6">励者除外）</tspan></text></g>
<g id="b7-5" transform="translate(1673,5605.75)"><path class="bx" d="M0,0H50L59,9V30.5H0Z"/><text class="t" x="7" y="20.5">六 附则</text></g>
<g id="b7-5-1" transform="translate(1763,5562.45)"><path class="bx" d="M0,0H277L286,9V48.1H0Z"/><text class="t" y="20.5"><tspan x="7">（一）本规定的解释权、修改权归董事会所有</tspan><tspan x="7" dy="17.6">。</tspan></text></g>
<g id="b7-5-2" transform="translate(1763,5641.25)"><path class="bx" d="M0,0H208L217,9V30.5H0Z"/><text class="t" x="7" y="20.5">（二）本规定自颁布之日起执行。</text></g>

<!-- Branch 2 -->
<g id="b2" transform="translate(603,1906.5)"><path d="M0,0H205L216,11V41H0Z" fill="#2ee6bd" stroke="#a6f7e3" stroke-width="2"/><text class="h" x="10" y="27" fill="#1e3a66">年终奖怎么写范文 第二篇</text></g>
<g id="b2-1" transform="translate(451,1733.75)"><path class="bx" d="M0,0H113L122,9V30.5H0Z"/><text class="t" x="7" y="20.5">尊敬的公司领导：</text></g>
<g id="b2-1-1" transform="translate(133,1462.95)"><path class="bx" d="M0,0H277L286,9V224.1H0Z"/><text class="t" y="20.5"><tspan x="7">随着我公司的不断发展，我个人的潜质也在不</tspan><tspan x="7" dy="17.6">断的提升和进步。这段共同成长的岁月里，我</tspan><tspan x="7" dy="17.6">对公司的同事们产生了感情，同事们给予了我</tspan><tspan x="7" dy="17.6">很多。我感谢公司领导对我的栽培和帮忙。在</tspan><tspan x="7" dy="17.6">那里我不用说自己工作做的怎样样、工作态度</tspan><tspan x="7" dy="17.6">怎样样，正因您是我的直接领导，这些您就应</tspan><tspan x="7" dy="17.6">十分了解，您甚至能够从员工们那里得到对我</tspan><tspan x="7" dy="17.6">的评价。我坚信，只要付出，就会有收获，因</tspan><tspan x="7" dy="17.6">此我向您提出加薪请求，此刻我的基本月薪是</tspan><tspan x="7" dy="17.6">___元，每个月要还住房贷款___元，工资也</tspan><tspan x="7" dy="17.6">就所剩无几，经济方面有了困难，期望领导对</tspan><tspan x="7" dy="17.6">我的申请能够加以重视。</tspan></text></g>
<g id="b2-1-2" transform="translate(133,1716.05)"><path class="bx" d="M0,0H277L286,9V100.9H0Z"/><text class="t" y="20.5"><tspan x="7">如果公司领导认为我此刻的工作资料及质量还</tspan><tspan x="7" dy="17.6">未能到达加薪的要求，我诚恳的期望您能提出</tspan><tspan x="7" dy="17.6">宝贵意见或推荐，让我今后有一个发奋的方向</tspan><tspan x="7" dy="17.6">和目标，在提升自己潜质的同时将工作做的更</tspan><tspan x="7" dy="17.6">好，向更高的目标迈进。</tspan></text></g>
<g id="b2-1-3" transform="translate(133,1845.65)"><path class="bx" d="M0,0H277L286,9V153.7H0Z"/><text class="t" y="20.5"><tspan x="7">也请您放心，如果公司不予思考，我仍然会像</tspan><tspan x="7" dy="17.6">以前一样，用用心的、认真负责的态度去做好</tspan><tspan x="7" dy="17.6">每一件事，不会因此怠慢工作，这是我的修养</tspan><tspan x="7" dy="17.6">要求我就应做到的。我此刻到公司工作已经满</tspan><tspan x="7" dy="17.6">__年，贴合公司__规定的奖金发放的规定，</tspan><tspan x="7" dy="17.6">在实际工作中我完成_____，为公司创造经济</tspan><tspan x="7" dy="17.6">价值___元，严格遵守公司的____，没有出</tspan><tspan x="7" dy="17.6">现过违纪现象和行为。现特提出奖金。</tspan></text></g>
<g id="b2-2" transform="translate(505,2028.75)"><path class="bx" d="M0,0H59L68,9V30.5H0Z"/><text class="t" x="7" y="20.5">申请人：</text></g>
<g id="b2-3" transform="translate(491,2089.75)"><path class="bx" d="M0,0H73L82,9V30.5H0Z"/><text class="t" x="7" y="20.5">申请日期：</text></g>

<!-- Branch 4 -->
<g id="b4" transform="translate(603,2731.5)"><path d="M0,0H205L216,11V41H0Z" fill="#9a2ff5" stroke="#c99bff" stroke-width="2"/><text class="h" x="10" y="27" fill="#ffffff">年终奖怎么写范文 第四篇</text></g>
<g id="b4-1" transform="translate(287,2149.25)"><path class="bx" d="M0,0H277L286,9V206.5H0Z"/><text class="t" y="20.5"><tspan x="7">随着工作的渐渐深入，便接触了其他大量的设</tspan><tspan x="7" dy="17.6">备，了解了其工作原理，学会了正确的使用方</tspan><tspan x="7" dy="17.6">法。其中学习的过程不是一帆风顺的，本来就</tspan><tspan x="7" dy="17.6">对生物产品的生产过程就一无所知，当看到大</tspan><tspan x="7" dy="17.6">量管道时看都看乱了，我在工作工作之余就顺</tspan><tspan x="7" dy="17.6">着管道走，来探究其路线，一遍一遍的深入，</tspan><tspan x="7" dy="17.6">一遍遍的思考，有时间就看大量的资料，一遍</tspan><tspan x="7" dy="17.6">遍的看，终于经过自己的努力和领导的大力帮</tspan><tspan x="7" dy="17.6">助和指导，我已经把板框岗位的工艺流程彻底</tspan><tspan x="7" dy="17.6">的了解了，但是生产中具体到的一些细节问题</tspan><tspan x="7" dy="17.6">还有待在以后的工作中继续努力学习。</tspan></text></g>
<g id="b4-2" transform="translate(287,2385.05)"><path class="bx" d="M0,0H277L286,9V100.9H0Z"/><text class="t" y="20.5"><tspan x="7">板框岗位的工作分为：接发酵液，板框的过滤</tspan><tspan x="7" dy="17.6">和压榨，板框的装卸粉碎和运输，菌丝体的山</tspan><tspan x="7" dy="17.6">蒸干燥，浸取和离心，二次渣中甲醇的回收等</tspan><tspan x="7" dy="17.6">。其中有些工作是力气活但大部分还是仪器设</tspan><tspan x="7" dy="17.6">备的操作和控制。</tspan></text></g>
<g id="b4-3" transform="translate(287,2514.45)"><path class="bx" d="M0,0H277L286,9V136.1H0Z"/><text class="t" y="20.5"><tspan x="7">在5月份的劳动竞赛活动中我积极报名，利用</tspan><tspan x="7" dy="17.6">这一个机会抓紧学习，给自己创造一定的压力</tspan><tspan x="7" dy="17.6">，遇到不会的问题就积极的向其他员工虚心请</tspan><tspan x="7" dy="17.6">教。在工作中遇到的`一些问题我也会积极的</tspan><tspan x="7" dy="17.6">思考，刻苦钻研，及时向代班长和班长提出一</tspan><tspan x="7" dy="17.6">些自己的建议和看法，并取得了大家的一直好</tspan><tspan x="7" dy="17.6">评，给他们留下了很好的印象。</tspan></text></g>
<g id="b4-4" transform="translate(287,2680.05)"><path class="bx" d="M0,0H277L286,9V188.9H0Z"/><text class="t" y="20.5"><tspan x="7">在工作中我不怕苦不怕脏不怕累，无论什么工</tspan><tspan x="7" dy="17.6">作总是冲在前面。我平时工作积极主动，做事</tspan><tspan x="7" dy="17.6">雷厉风行，不拖拉，具有良好的执行力。在工</tspan><tspan x="7" dy="17.6">作中不串岗不迟到不早退，不干与工作无关的</tspan><tspan x="7" dy="17.6">事情。我把工作当成是一种乐趣而不是负担，</tspan><tspan x="7" dy="17.6">因为只有具有这种心态才能把工作做好，我的</tspan><tspan x="7" dy="17.6">工作理念就是"工作快乐，快乐工作"。有些时</tspan><tspan x="7" dy="17.6">候一些工作干起来确实有些累，有时候衣服全</tspan><tspan x="7" dy="17.6">湿透了，但是经过这段时间的锻炼，我已经完</tspan><tspan x="7" dy="17.6">全适应了板框这个工作岗位。</tspan></text></g>
<g id="b4-5" transform="translate(287,2897.25)"><path class="bx" d="M0,0H277L286,9V118.5H0Z"/><text class="t" y="20.5"><tspan x="7">经过这段时间的观察和思考，我对工作产生了</tspan><tspan x="7" dy="17.6">自己的一些想法，把思路整理好并记录下来投</tspan><tspan x="7" dy="17.6">公司的刊物《视点》并有幸发表。我主要提出</tspan><tspan x="7" dy="17.6">了3条建议：每天的工作安排要有计划，要先</tspan><tspan x="7" dy="17.6">抓重点工作来做 ；每天的工作量要合适；领</tspan><tspan x="7" dy="17.6">导在工作中的楷模作用不可忽视。</tspan></text></g>
<g id="b4-6" transform="translate(287,3045.45)"><path class="bx" d="M0,0H277L286,9V136.1H0Z"/><text class="t" y="20.5"><tspan x="7">在上一次的红色教育活动中看了《铁人》这部</tspan><tspan x="7" dy="17.6">电影，我清楚的记得王进喜曾经这样说过"有</tspan><tspan x="7" dy="17.6">条件要上，创造条件也要上"这句话，这句话</tspan><tspan x="7" dy="17.6">深深的打动了我。"铁人"永远是我学习的榜样</tspan><tspan x="7" dy="17.6">，在那样物质匮乏的年代他们取得了那样骄傲</tspan><tspan x="7" dy="17.6">的成绩，我们xx人经过自己的努力肯定也可</tspan><tspan x="7" dy="17.6">以同样取得骄人的成绩。</tspan></text></g>
<g id="b4-7" transform="translate(287,3210.35)"><path class="bx" d="M0,0H277L286,9V83.3H0Z"/><text class="t" y="20.5"><tspan x="7">现在我就要成为xx股份的一名正式员工了，</tspan><tspan x="7" dy="17.6">我感到自己是非常的幸福。在公司我一定要好</tspan><tspan x="7" dy="17.6">好的努力工作，为xx股份的腾飞做出自己应</tspan><tspan x="7" dy="17.6">有的贡献。</tspan></text></g>

<!-- Branch 6 -->
<g id="b6" transform="translate(603,3577)"><path d="M0,0H205L216,11V41H0Z" fill="#ffd21c" stroke="#fff0a0" stroke-width="2"/><text class="h" x="10" y="27" fill="#2a2a55">年终奖怎么写范文 第六篇</text></g>
<g id="b6-1" transform="translate(376,3511.25)"><path class="bx" d="M0,0H188L197,9V30.5H0Z"/><text class="t" x="7" y="20.5">xxx人劳局、财政局、教育局：</text></g>
<g id="b6-1-1" transform="translate(58,3322.65)"><path class="bx" d="M0,0H276L285,9V241.7H0Z"/><text class="t" y="20.5"><tspan x="7">根据云政办发〔20xx〕144号、《义务教育学</tspan><tspan x="7" dy="17.6">校绩效工资实施办法》及大教字〔20xx〕10</tspan><tspan x="7" dy="17.6">号文件要求，我校158名教师的奖励性绩效工</tspan><tspan x="7" dy="17.6">资从20xx年9月至20xx年8月共扣奖励性绩效</tspan><tspan x="7" dy="17.6">工资合计xxxxx元。根据xx中学关于奖励性绩</tspan><tspan x="7" dy="17.6">效工资的发放办法》，通过认真考核，扣除校</tspan><tspan x="7" dy="17.6">长绩效工资xx元，扣除上年教学业绩四位老</tspan><tspan x="7" dy="17.6">师罚金xxx元，按相关规定扣奖励性绩效的xx</tspan><tspan x="7" dy="17.6">，共计xxx元，实发绩效工资合计xxxx元。请</tspan><tspan x="7" dy="17.6">将20xx年9月至20xx年8月共扣奖励性绩效工</tspan><tspan x="7" dy="17.6">资合计xxxx元划拨到特设义教专户，帐户名</tspan><tspan x="7" dy="17.6">：xxxxxxx，账号：xxxxxxxx。望xxxx人劳局</tspan><tspan x="7" dy="17.6">、财政局、教育局批准此请示为谢！</tspan></text></g>
<g id="b6-1-2" transform="translate(72,3593.75)"><path class="bx" d="M0,0H262L271,9V30.5H0Z"/><text class="t" x="7" y="20.5">附：奖励性绩效工资发放名册当否，请批示</text></g>
<g id="b6-2" transform="translate(505,3653.75)"><path class="bx" d="M0,0H59L68,9V30.5H0Z"/><text class="t" x="7" y="20.5">申请人：</text></g>
<g id="b6-2-1" transform="translate(375,3653.75)"><path class="bx" d="M0,0H89L98,9V30.5H0Z"/><text class="t" x="7" y="20.5">20xx年x月x日</text></g>
</g>
</svg>
